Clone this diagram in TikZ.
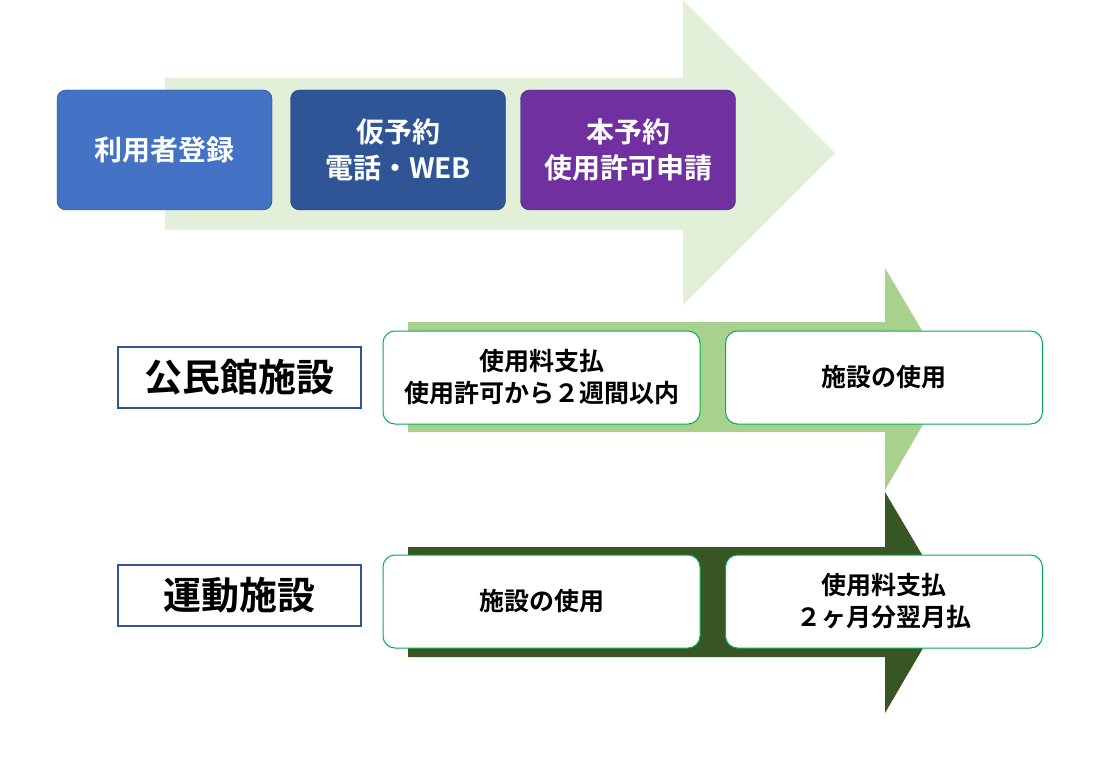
\documentclass[tikz,border=0pt]{standalone}
\usepackage{fontspec}
\setmainfont{Noto Sans CJK JP}[BoldFont={* Bold}]
\usetikzlibrary{positioning}
\definecolor{pale}{HTML}{E2EFD9}
\definecolor{mid}{HTML}{A9D18E}
\definecolor{deep}{HTML}{375623}
\definecolor{stepA}{HTML}{4472C4}
\definecolor{stepB}{HTML}{2F5597}
\definecolor{stepC}{HTML}{7030A0}
\definecolor{edge}{HTML}{00B050}
\begin{document}
\begin{tikzpicture}[x=1pt,y=-1pt,
  flow/.style = {draw=stepB!70!black, rounded corners=9pt, minimum width=215pt,
    minimum height=120pt, text=white, font=\bfseries\fontsize{28}{36}\selectfont,
    align=center},
  tag/.style = {draw=stepB, line width=2pt, fill=white, minimum width=243pt,
    minimum height=61pt, font=\bfseries\fontsize{38}{44}\selectfont},
  card/.style = {draw=edge, line width=1pt, fill=white, rounded corners=12pt,
    minimum width=317pt, minimum height=93pt, align=center,
    font=\bfseries\fontsize{25}{32}\selectfont}
  ]
  \useasboundingbox (0,0) rectangle (1101,762);
  % arrows
  \fill[pale] (165,78) -- (683,78) -- (683,0) -- (835,153) -- (683,305)
    -- (683,230) -- (165,230) -- cycle;
  \fill[mid] (408,322) -- (885,322) -- (885,268) -- (950,378) -- (885,490)
    -- (885,432) -- (408,432) -- cycle;
  \fill[deep] (408,547) -- (885,547) -- (885,492) -- (950,602) -- (885,713)
    -- (885,657) -- (408,657) -- cycle;
  % steps
  \node (reg) [flow, fill=stepA] at (164.5,150) {利用者登録};
  \node (temp) [flow, fill=stepB] at (398,150) {仮予約\\電話・WEB};
  \node (main) [flow, fill=stepC] at (628,150) {本予約\\使用許可申請};
  % hall
  \node (hall) [tag] at (239.5,377.5) {公民館施設};
  \node (hallpay) [card] at (541.5,377.5) {使用料支払\\使用許可から２週間以内};
  \node (halluse) [card] at (884,377.5) {施設の使用};
  % sports
  \node (sport) [tag] at (239.5,595) {運動施設};
  \node (sportuse) [card] at (541.5,601.5) {施設の使用};
  \node (sportpay) [card] at (884,601.5) {使用料支払\\２ヶ月分翌月払};
\end{tikzpicture}
\end{document}
